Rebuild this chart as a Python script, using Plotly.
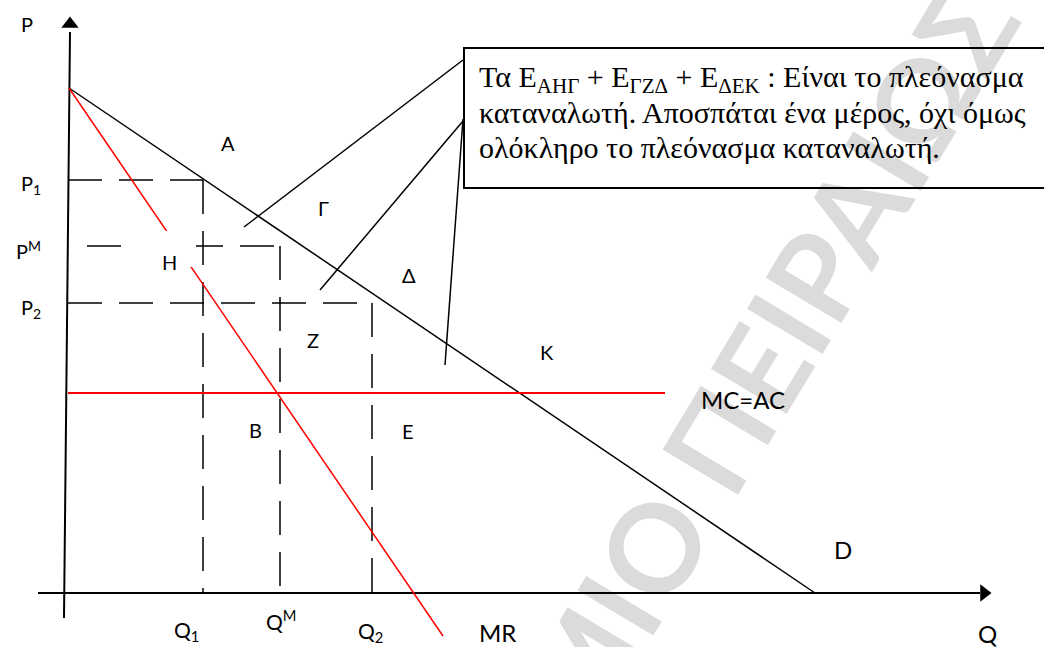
import plotly.graph_objects as go

# ---------------- data (drawing units, origin at the axes' intersection) ----------------
demand_q = [3, 749]          # D : from price intercept to quantity intercept
demand_p = [505, 0]
mr_q = [3, 377]              # MR
mr_p = [505, -43]
mc_q = [2, 599]              # MC = AC
mc_p = [200, 200]

price_labels = ["P<sub>1</sub>", "P<sup>M</sup>", "P<sub>2</sub>"]
price_vals = [413, 347, 290]
qty_labels = ["Q<sub>1</sub>", "Q<sup>M</sup>", "Q<sub>2</sub>"]
qty_vals = [137, 214, 306]
hdash_start = [2, 21, 2]

q_axis_q = [-28, 914]        # horizontal axis
p_axis_q = [-2, 4]           # vertical axis (slightly slanted, as drawn)
p_axis_p = [-25, 561]

callout_from_q = [397, 397, 397]
callout_from_p = [533, 472, 474]
callout_to_q = [178, 254, 379]
callout_to_p = [366, 303, 228]

box_q = [1000, 398, 398, 1000]   # text frame, open on the right
box_p = [545, 545, 405, 405]

box_text = [
    "Τα E<sub>ΑΗΓ</sub> + E<sub>ΓΖΔ</sub> + E<sub>ΔΕΚ</sub> : Είναι το πλεόνασμα",
    "καταναλωτή. Αποσπάται ένα μέρος, όχι όμως",
    "ολόκληρο το πλεόνασμα καταναλωτή.",
]

# ---------------- figure ----------------
fig = go.Figure()
BLACK = "#000000"
RED = "#ff0000"
DASH = "34px,17px"


def seg(xs, ys, color=BLACK, width=1.5, dash=None):
    fig.add_trace(go.Scatter(x=xs, y=ys, mode="lines",
                             line=dict(color=color, width=width, dash=dash),
                             hoverinfo="skip", showlegend=False))


# axes
seg(q_axis_q, [0, 0], width=2)
seg(p_axis_q, p_axis_p, width=2)
fig.add_trace(go.Scatter(x=[q_axis_q[1] + 4], y=[0], mode="markers",
                         marker=dict(symbol="triangle-right", size=15, color=BLACK),
                         hoverinfo="skip", showlegend=False))
fig.add_trace(go.Scatter(x=[p_axis_q[1]], y=[p_axis_p[1] + 8], mode="markers",
                         marker=dict(symbol="triangle-up", size=15, color=BLACK),
                         hoverinfo="skip", showlegend=False))

# dashed guide lines
for pv, qv, q0 in zip(price_vals, qty_vals, hdash_start):
    seg([q0, qv], [pv, pv], dash=DASH)
    seg([qv, qv], [pv, 0], dash=DASH)

# curves
seg(demand_q, demand_p, width=1.5)
seg(mr_q, mr_p, color=RED, width=1.5)
seg(mc_q, mc_p, color=RED, width=2)

# callout lines
for a, b, c, d in zip(callout_from_q, callout_from_p, callout_to_q, callout_to_p):
    seg([a, c], [b, d], width=1.5)

# text frame
seg(box_q, box_p, width=2)

shapes = [
    # white label patch behind H
    dict(type="rect", xref="x", yref="y", x0=62, x1=130, y0=326, y1=362,
         line=dict(width=0), fillcolor="white", layer="above"),
]

LBL = dict(family="Lato, 'Noto Sans', sans-serif", color=BLACK)
ann = []


def label(x, y, text, size=20, **kw):
    ann.append(dict(x=x, y=y, xref="x", yref="y", text=text, showarrow=False,
                    xanchor="center", yanchor="middle",
                    font=dict(size=size, **LBL), **kw))


# watermark
ann.append(dict(x=700, y=236, xref="x", yref="y", text="<b>ΜΙΟ ΠΕΙΡΑΙΩΣ</b>", showarrow=False,
                textangle=-59, xanchor="center", yanchor="middle",
                font=dict(family="Lato, sans-serif", size=122, color="rgba(0,0,0,0.14)")))

label(-39, 569, "P")
label(-35, 409, price_labels[0])
label(-38, 343, price_labels[1])
label(-35, 285, price_labels[2])
label(120, -38, qty_labels[0], size=21)
label(215, -27, qty_labels[1], size=21)
label(304, -39, qty_labels[2], size=21)
label(431, -39, "MR", size=24)
label(921, -40, "Q", size=24)
label(677, 194, "MC=AC", size=24)
label(777, 44, "D", size=24)
label(162, 450, "A")
label(257, 385, "Γ")
label(343, 318, "Δ")
label(103, 331, "H")
label(247, 253, "Z")
label(481, 241, "K")
label(189, 163, "B")
label(342, 162, "E")

SERIF = dict(family="'Liberation Serif', 'Times New Roman', serif", size=30, color=BLACK)
for txt, yy in zip(box_text, [514, 481, 446]):
    ann.append(dict(x=411, y=yy, xref="x", yref="y", text=txt, showarrow=False,
                    xanchor="left", yanchor="middle", font=SERIF))

fig.update_layout(
    width=1044, height=647,
    margin=dict(l=0, r=0, t=0, b=0),
    paper_bgcolor="white", plot_bgcolor="white",
    xaxis=dict(range=[-66, 978], visible=False, fixedrange=True),
    yaxis=dict(range=[-54, 593], visible=False, fixedrange=True),
    shapes=shapes, annotations=ann,
)

fig.write_html("out.html", config={"displayModeBar": False},
               post_script="document.body.style.margin='0';")
